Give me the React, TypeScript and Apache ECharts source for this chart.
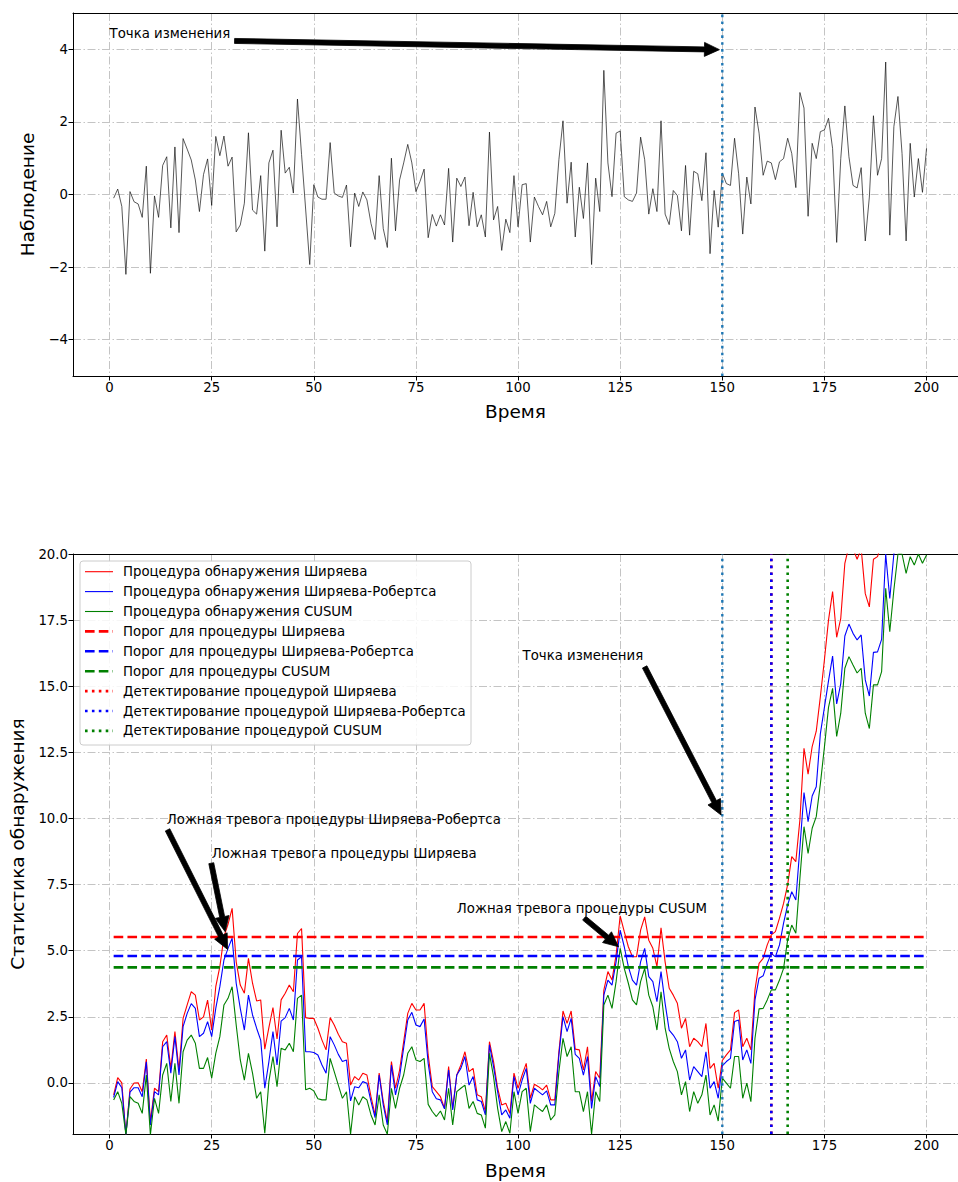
import React, { useEffect, useRef } from "react";
import * as echarts from "echarts";

// ---------------- data ----------------
const TIME_STEPS: number[] = Array.from({ length: 200 }, (_, i) => i + 1);

const OBSERVATIONS: number[] = [
  -0.1, 0.15, -0.33, -2.2, 0.08, -0.2, -0.26, -0.63, 0.78, -2.17,
  -0.04, -0.63, 0.8, 1.04, -0.92, 1.31, -1.05, 1.54, 1.25, 0.95,
  0.4, -0.47, 0.55, 0.98, -0.3, 1.6, 1.07, 1.61, 0.78, 1.03,
  -1.03, -0.84, -0.24, 1.7, -0.43, -0.54, 0.52, -1.56, 0.87, 1.22,
  -0.89, 1.77, 0.59, 0.75, 0.04, 2.63, 1.1, -0.4, -1.93, 0.27,
  -0.07, -0.13, -0.13, 1.43, 0.04, -0.04, -0.08, 0.26, -1.44, 0.04,
  -0.33, 0.07, -0.15, -0.8, -1.24, 0.52, -0.94, -1.46, 1.0, -1.0,
  0.4, 0.87, 1.38, 0.87, 0.08, 0.36, 0.7, -1.19, -0.55, -0.87,
  -0.56, -0.84, 0.72, -1.31, 0.45, 0.22, 0.48, -0.86, 0.06, -0.89,
  -0.56, -1.17, 1.72, -0.7, -0.33, -1.54, -0.68, -1.05, 0.52, -0.89,
  0.27, 0.3, -1.31, -0.07, -0.33, -0.56, -0.19, -0.89, -0.52, 0.96,
  2.03, -0.24, 0.89, -1.17, 0.2, -0.66, 0.87, -1.93, 0.45, -0.47,
  3.42, 0.87, -0.06, 1.69, 1.75, -0.06, -0.15, -0.19, 0.04, 1.58,
  0.96, -0.54, 0.16, -0.47, 2.03, -0.54, -0.83, 0.11, -0.03, -1.0,
  0.8, -1.12, 0.64, 0.57, -0.17, 1.15, -1.63, 0.11, -0.9, 0.59,
  0.3, 0.25, 1.55, 0.57, -1.09, 0.48, -0.26, 2.41, 1.69, 0.53,
  0.92, 0.87, 0.41, 0.9, 0.99, 1.55, 1.13, 0.19, 2.81, 2.38,
  -0.6, 1.41, 0.99, 1.73, 1.78, 2.1, 1.27, -1.32, 0.99, 2.44,
  1.04, 0.25, 0.18, 0.74, -1.28, -0.07, 2.17, 0.53, 0.99, 3.65,
  -1.12, 1.87, 2.7, 1.13, -1.28, 1.41, -0.07, 0.99, 0.06, 1.27,
];

const SHIRYAEV: number[] = [
  -0.45, 0.2, 0, -1.96, -0.23, 0, 0.01, -0.33, 0.9, -1.46,
  -0.2, -0.33, 1.56, 1.81, 0.55, 1.94, 0.49, 2.44, 2.95, 3.45,
  3.32, 2.38, 2.5, 3.13, 2.0, 3.64, 4.4, 5.53, 6.0, 6.6,
  4.58, 3.7, 3.39, 4.71, 3.77, 3.1, 3.14, 1.28, 2.09, 2.85,
  1.66, 3.14, 3.39, 3.7, 3.45, 5.65, 5.84, 2.47, 2.44, 2.44,
  2.07, 1.62, 1.25, 2.47, 2.19, 1.84, 1.56, 1.5, -0.08, 0.24,
  0.11, 0.37, 0.3, -0.52, -1.21, 0.37, -0.7, -1.46, 0.81, -0.2,
  0.49, 1.56, 2.63, 3.01, 2.76, 2.76, 3.01, 1.06, -0.14, -0.33,
  -0.52, -0.96, 0.62, -0.96, 0.3, 0.68, 1.18, 0.43, 0.55, -0.45,
  -0.52, -1.08, 1.56, 0.81, -0.2, -0.83, -0.77, -1.15, 0.37, -0.2,
  0.3, 0.74, -0.58, -0.05, -0.14, -0.26, -0.08, -0.64, -0.64, 1.18,
  2.72, 2.25, 2.72, 1.28, 1.25, 0.49, 1.37, -0.7, 0.43, 0.18,
  3.51, 4.21, 3.89, 4.84, 6.32, 5.72, 5.15, 4.77, 4.77, 5.78,
  6.28, 5.4, 5.09, 4.4, 5.87, 4.58, 3.58, 3.32, 3.01, 2.07,
  2.44, 1.37, 1.69, 1.56, 1.37, 2.25, 0.55, 0.74, -0.2, 0.85,
  1.06, 1.25, 2.66, 2.76, 1.37, 1.69, 1.25, 3.52, 4.52, 4.71,
  5.22, 5.6, 5.72, 6.23, 6.79, 7.5, 8.56, 8.37, 9.95, 12.65,
  11.68, 12.72, 13.3, 14.6, 16.0, 17.5, 18.58, 16.85, 17.57, 19.65,
  20.3, 20.2, 19.8, 20.2, 18.5, 18.0, 19.8, 19.9, 20.4, 22.5,
  21.0, 22.0, 23.0, 22.5, 21.0, 22.0, 21.5, 22.2, 21.8, 22.5,
];

const SHIRYAEV_ROBERTS: number[] = [
  -0.55, 0.05, -0.18, -1.96, -0.35, -0.18, -0.18, -0.52, 0.8, -1.59,
  -0.33, -0.45, 1.37, 1.56, 0.37, 1.75, 0.3, 2.13, 2.63, 3.0,
  2.82, 1.75, 1.88, 2.32, 1.75, 2.82, 3.64, 4.65, 5.09, 5.47,
  3.77, 2.82, 2.0, 3.32, 2.57, 2.07, 1.62, -0.2, 0.8, 1.94,
  0.68, 2.34, 2.47, 2.82, 2.38, 4.65, 4.77, 1.18, 1.18, 1.15,
  1.06, 0.68, 0.37, 1.75, 1.44, 1.08, 0.81, 0.87, -0.68, -0.14,
  -0.18, 0.05, -0.01, -0.7, -1.31, 0.3, -0.83, -1.59, 0.68, -0.45,
  0.24, 1.33, 2.38, 2.67, 2.19, 2.13, 2.42, 0.74, -0.33, -0.6,
  -0.64, -0.98, 0.49, -1.02, 0.3, 0.55, 1.0, -0.08, 0.24, -0.64,
  -0.7, -1.21, 1.44, 0.62, -0.33, -1.21, -1.02, -1.33, 0.24, -0.45,
  0.11, 0.55, -0.77, -0.2, -0.33, -0.45, -0.3, -0.83, -0.83, 1.06,
  2.51, 1.94, 2.44, 1.08, 0.93, 0.3, 1.0, -0.96, 0.24, -0.14,
  3.32, 3.89, 3.7, 4.58, 5.78, 5.15, 4.4, 3.89, 3.7, 4.58,
  5.09, 4.02, 3.83, 3.07, 4.21, 3.01, 2.0, 1.81, 1.56, 0.93,
  1.25, 0.11, 0.62, 0.43, 0.24, 1.18, -0.2, 0.05, -0.58, 0.65,
  0.81, 0.93, 2.32, 2.38, 0.87, 1.25, 0.74, 3.14, 3.96, 4.05,
  4.52, 4.9, 4.77, 5.22, 6.04, 6.73, 7.23, 6.92, 8.9, 10.98,
  9.88, 10.85, 11.2, 13.2, 14.2, 15.2, 16.14, 14.33, 15.1, 16.9,
  17.35, 17.0, 16.75, 16.94, 15.24, 14.63, 16.28, 16.3, 16.77, 20.0,
  18.32, 20.0, 20.8, 21.2, 20.5, 21.0, 20.6, 21.3, 21.0, 21.5,
];

const CUSUM: number[] = [
  -0.64, -0.33, -0.77, -1.96, -0.52, -0.7, -0.77, -1.15, 0.3, -1.96,
  -0.58, -1.15, 0.3, 0.74, -0.7, 0.74, -0.77, 1.18, 1.62, 1.81,
  1.5, 0.55, 0.55, 0.96, 0.18, 1.12, 1.75, 2.95, 3.2, 3.64,
  2.19, 0.87, 0.11, 1.12, 0.37, -0.58, -0.33, -1.9, 0.05, 1.0,
  -0.14, 1.31, 1.25, 1.5, 1.18, 3.2, 3.32, -0.26, -0.2, -0.3,
  -0.6, -0.64, -0.64, 0.93, 0.43, -0.08, -0.58, -0.33, -1.94, -0.52,
  -0.83, -0.52, -0.64, -1.21, -1.59, -0.45, -1.59, -1.94, -0.2, -0.96,
  -0.2, 0.3, 1.12, 1.37, 0.87, 0.81, 0.93, -0.81, -1.08, -1.27,
  -1.06, -1.4, -0.2, -1.59, -0.33, -0.2, -0.08, -0.96, -0.7, -1.15,
  -1.21, -1.71, 1.12, 0.24, -0.96, -1.84, -1.46, -1.9, -0.33, -1.15,
  -0.33, -0.2, -1.84, -0.83, -0.96, -1.08, -0.83, -1.4, -1.21, 0.43,
  1.69, 1.0, 1.37, -0.33, -0.33, -1.08, -0.33, -1.94, -0.33, -0.7,
  2.95, 3.32, 2.82, 3.83, 5.09, 4.33, 3.77, 3.14, 2.95, 3.83,
  4.33, 3.32, 2.88, 2.0, 3.45, 2.07, 1.31, 0.81, 0.43, -0.45,
  0.05, -1.08, -0.33, -0.77, -0.45, 0.3, -1.21, -0.83, -1.44, 0.18,
  -0.01, -0.2, 1.0, 1.0, -0.58, -0.01, -0.71, 1.69, 2.8, 2.82,
  3.14, 3.52, 3.52, 3.89, 4.33, 5.41, 5.97, 5.66, 7.74, 9.69,
  8.68, 9.63, 10.07, 11.3, 12.7, 14.2, 14.92, 13.1, 13.98, 15.68,
  16.12, 15.8, 15.5, 15.68, 13.98, 13.4, 15.05, 15.05, 15.55, 18.7,
  17.06, 18.64, 20.0, 20.0, 19.27, 19.9, 19.58, 20.0, 19.65, 19.96,
];

const THRESHOLD_SHIRYAEV = 5.52;
const THRESHOLD_SR = 4.8;
const THRESHOLD_CUSUM = 4.37;

const CHANGE_POINT = 150;
const DETECTION_SHIRYAEV = 162;
const DETECTION_SR = 162;
const DETECTION_CUSUM = 166;

const X_TICKS: number[] = [0, 25, 50, 75, 100, 125, 150, 175, 200];
const Y_TICKS_TOP: number[] = [-4, -2, 0, 2, 4];
const Y_TICKS_BOTTOM: number[] = [0, 2.5, 5, 7.5, 10, 12.5, 15, 17.5, 20];

const LEGEND_LABELS: string[] = [
  "Процедура обнаружения Ширяева",
  "Процедура обнаружения Ширяева-Робертса",
  "Процедура обнаружения CUSUM",
  "Порог для процедуры Ширяева",
  "Порог для процедуры Ширяева-Робертса",
  "Порог для процедуры CUSUM",
  "Детектирование процедурой Ширяева",
  "Детектирование процедурой Ширяева-Робертса",
  "Детектирование процедурой CUSUM",
];

// annotations: text anchor (left, middle), arrow tail, arrow tip — in data coordinates
const ANNOTATIONS_TOP = [
  { text: "Точка изменения", at: [0, 4.43], tail: [30.6, 4.23], tip: [149.3, 3.99] },
];
const ANNOTATIONS_BOTTOM = [
  { text: "Точка изменения", at: [101.1, 16.18], tail: [131.0, 15.73], tip: [149.7, 10.13] },
  { text: "Ложная тревога процедуры Ширяева-Робертса", at: [14.0, 9.98], tail: [14.2, 9.57], tip: [28.9, 5.05] },
  { text: "Ложная тревога процедуры Ширяева", at: [25.0, 8.68], tail: [24.9, 8.31], tip: [28.3, 5.72] },
  { text: "Ложная тревога процедуры CUSUM", at: [85.0, 6.6], tail: [116.2, 6.23], tip: [124.6, 5.15] },
];

// ---------------- styles ----------------
const FONT = "DejaVu Sans";
const SMALL = 13.3;
const LARGE = 18.5;
const RED = "#ff0000";
const BLUE = "#0000ff";
const GREEN = "#008000";
const TAB_BLUE = "#1f77b4";
const X_MIN = -8.95;
const X_MAX = 207.7;
const Y_MIN_BOTTOM = -1.93;
const Y_MAX_BOTTOM = 20;
const DASH = [9.6, 4.2];
const DOT = [2.6, 4.3];

const gridLineStyle = { color: "#c4c4c4", width: 1, type: [8, 2.5, 1.5, 2.5] as any };

function pairs(values: number[]) {
  return TIME_STEPS.map((t, i) => [t, values[i]]);
}

function arrowPoints(p0: number[], p1: number[], shaft = 5, headW = 14, headL = 15) {
  const dx = p1[0] - p0[0];
  const dy = p1[1] - p0[1];
  const L = Math.hypot(dx, dy);
  const ux = dx / L;
  const uy = dy / L;
  const nx = -uy;
  const ny = ux;
  const hx = p1[0] - ux * headL;
  const hy = p1[1] - uy * headL;
  const w = shaft / 2;
  const hw = headW / 2;
  return [
    [p0[0] + nx * w, p0[1] + ny * w],
    [hx + nx * w, hy + ny * w],
    [hx + nx * hw, hy + ny * hw],
    [p1[0], p1[1]],
    [hx - nx * hw, hy - ny * hw],
    [hx - nx * w, hy - ny * w],
    [p0[0] - nx * w, p0[1] - ny * w],
  ];
}

function xAxisBottom(gridIndex: number, nameGap: number) {
  return {
    type: "value",
    gridIndex,
    position: "bottom",
    min: X_MIN,
    max: X_MAX,
    name: "Время",
    nameLocation: "middle",
    nameGap,
    nameTextStyle: { fontFamily: FONT, fontSize: LARGE, color: "#000" },
    axisLine: { show: true, onZero: false, lineStyle: { color: "#000", width: 1 } },
    axisTick: { show: true, length: 4.5, customValues: X_TICKS, lineStyle: { color: "#000", width: 1 } },
    axisLabel: {
      show: true,
      customValues: X_TICKS,
      margin: 5,
      color: "#000",
      fontFamily: FONT,
      fontSize: SMALL,
      formatter: (v: number) => String(Math.round(v)),
    },
    splitLine: { show: true, lineStyle: gridLineStyle },
  };
}

function xAxisTop(gridIndex: number) {
  return {
    type: "value",
    gridIndex,
    position: "top",
    min: X_MIN,
    max: X_MAX,
    axisLine: { show: true, onZero: false, lineStyle: { color: "#000", width: 1 } },
    axisTick: { show: false },
    axisLabel: { show: false },
    splitLine: { show: false },
  };
}

function lineSeries(name: string, data: any[], color: string, width: number, type: any, xi: number, yi: number, z = 2) {
  return {
    name,
    type: "line",
    xAxisIndex: xi,
    yAxisIndex: yi,
    data,
    symbol: "none",
    showSymbol: false,
    silent: true,
    clip: true,
    z,
    lineStyle: { color, width, type },
    emphasis: { disabled: true },
  };
}

function App() {
  const ref = useRef<HTMLDivElement>(null);

  useEffect(() => {
    if (!ref.current) return;
    const chart = echarts.init(ref.current, null, { renderer: "svg" });

    const option: any = {
      animation: false,
      backgroundColor: "#ffffff",
      textStyle: { fontFamily: FONT },
      grid: [
        { left: 73, top: 13, width: 885, height: 363 },
        { left: 73, top: 554, width: 885, height: 580 },
      ],
      xAxis: [xAxisBottom(0, 26), xAxisBottom(1, 27), xAxisTop(0), xAxisTop(1)],
      yAxis: [
        {
          type: "value",
          gridIndex: 0,
          min: -5,
          max: 5,
          name: "Наблюдение",
          nameLocation: "middle",
          nameGap: 33,
          nameTextStyle: { fontFamily: FONT, fontSize: LARGE, color: "#000" },
          axisLine: { show: true, onZero: false, lineStyle: { color: "#000", width: 1 } },
          axisTick: { show: true, length: 4.5, customValues: Y_TICKS_TOP, lineStyle: { color: "#000", width: 1 } },
          axisLabel: {
            show: true,
            customValues: Y_TICKS_TOP,
            margin: 5,
            color: "#000",
            fontFamily: FONT,
            fontSize: SMALL,
            formatter: (v: number) => (v < 0 ? "\u2212" + Math.abs(v) : String(v)),
          },
          splitLine: { show: true, lineStyle: gridLineStyle },
        },
        {
          type: "value",
          gridIndex: 1,
          min: Y_MIN_BOTTOM,
          max: Y_MAX_BOTTOM,
          name: "Статистика обнаружения",
          nameLocation: "middle",
          nameGap: 46,
          nameTextStyle: { fontFamily: FONT, fontSize: LARGE, color: "#000" },
          axisLine: { show: true, onZero: false, lineStyle: { color: "#000", width: 1 } },
          axisTick: { show: true, length: 4.5, customValues: Y_TICKS_BOTTOM, lineStyle: { color: "#000", width: 1 } },
          axisLabel: {
            show: true,
            customValues: Y_TICKS_BOTTOM,
            margin: 5,
            color: "#000",
            fontFamily: FONT,
            fontSize: SMALL,
            formatter: (v: number) => (v < 0 ? "\u2212" + Math.abs(v).toFixed(1) : v.toFixed(1)),
          },
          splitLine: { show: true, lineStyle: gridLineStyle },
        },
      ],
      series: [
        lineSeries("Наблюдение", pairs(OBSERVATIONS), "#111111", 0.7, "solid", 0, 0),
        lineSeries("change-top", [[CHANGE_POINT, -5], [CHANGE_POINT, 5]], TAB_BLUE, 2.4, DOT, 0, 0, 5),

        lineSeries(LEGEND_LABELS[0], pairs(SHIRYAEV), RED, 1.1, "solid", 1, 1),
        lineSeries(LEGEND_LABELS[1], pairs(SHIRYAEV_ROBERTS), BLUE, 1.1, "solid", 1, 1),
        lineSeries(LEGEND_LABELS[2], pairs(CUSUM), GREEN, 1.1, "solid", 1, 1),
        lineSeries(LEGEND_LABELS[3], [[TIME_STEPS[0], THRESHOLD_SHIRYAEV], [TIME_STEPS[199], THRESHOLD_SHIRYAEV]], RED, 2.6, DASH, 1, 1, 3),
        lineSeries(LEGEND_LABELS[4], [[TIME_STEPS[0], THRESHOLD_SR], [TIME_STEPS[199], THRESHOLD_SR]], BLUE, 2.6, DASH, 1, 1, 3),
        lineSeries(LEGEND_LABELS[5], [[TIME_STEPS[0], THRESHOLD_CUSUM], [TIME_STEPS[199], THRESHOLD_CUSUM]], GREEN, 2.6, DASH, 1, 1, 3),
        lineSeries(LEGEND_LABELS[6], [[DETECTION_SHIRYAEV, Y_MIN_BOTTOM], [DETECTION_SHIRYAEV, Y_MAX_BOTTOM]], RED, 2.6, DOT, 1, 1, 4),
        lineSeries(LEGEND_LABELS[7], [[DETECTION_SR, Y_MIN_BOTTOM], [DETECTION_SR, Y_MAX_BOTTOM]], BLUE, 2.6, DOT, 1, 1, 4),
        lineSeries(LEGEND_LABELS[8], [[DETECTION_CUSUM, Y_MIN_BOTTOM], [DETECTION_CUSUM, Y_MAX_BOTTOM]], GREEN, 2.6, DOT, 1, 1, 4),
        lineSeries("change-bottom", [[CHANGE_POINT, Y_MIN_BOTTOM], [CHANGE_POINT, Y_MAX_BOTTOM]], TAB_BLUE, 2.4, DOT, 1, 1, 5),
      ],
    };

    chart.setOption(option);

    // annotations and legend as graphic elements
    const graphics: any[] = [];
    const addAnnotations = (list: any[], gridIndex: number) => {
      list.forEach((a) => {
        const pText = chart.convertToPixel({ gridIndex } as any, a.at) as number[];
        const pTail = chart.convertToPixel({ gridIndex } as any, a.tail) as number[];
        const pTip = chart.convertToPixel({ gridIndex } as any, a.tip) as number[];
        graphics.push({
          type: "text",
          x: pText[0],
          y: pText[1],
          z: 60,
          silent: true,
          style: {
            text: a.text,
            fill: "#000",
            font: `${SMALL}px "${FONT}"`,
            textAlign: "left",
            textVerticalAlign: "middle",
          },
        });
        graphics.push({
          type: "polygon",
          z: 60,
          silent: true,
          shape: { points: arrowPoints(pTail, pTip) },
          style: { fill: "#000", stroke: "#000", lineWidth: 0.8 },
        });
      });
    };
    addAnnotations(ANNOTATIONS_TOP, 0);
    addAnnotations(ANNOTATIONS_BOTTOM, 1);

    // legend
    const legendStyles = [
      { color: RED, width: 1.1, dash: null },
      { color: BLUE, width: 1.1, dash: null },
      { color: GREEN, width: 1.1, dash: null },
      { color: RED, width: 2.6, dash: DASH },
      { color: BLUE, width: 2.6, dash: DASH },
      { color: GREEN, width: 2.6, dash: DASH },
      { color: RED, width: 2.6, dash: DOT },
      { color: BLUE, width: 2.6, dash: DOT },
      { color: GREEN, width: 2.6, dash: DOT },
    ];
    const lgX = 80;
    const lgY = 561;
    const rowH = 19.9;
    const legendChildren: any[] = [
      {
        type: "rect",
        shape: { x: 0, y: 0, width: 391, height: 184, r: 3 },
        style: { fill: "rgba(255,255,255,0.85)", stroke: "#cccccc", lineWidth: 1 },
      },
    ];
    LEGEND_LABELS.forEach((label, i) => {
      const cy = 10.7 + rowH * i;
      const st = legendStyles[i];
      legendChildren.push({
        type: "line",
        shape: { x1: 5, y1: cy, x2: 33, y2: cy },
        style: { stroke: st.color, lineWidth: st.width, lineDash: st.dash || undefined },
      });
      legendChildren.push({
        type: "text",
        x: 43,
        y: cy,
        style: {
          text: label,
          fill: "#000",
          font: `${SMALL}px "${FONT}"`,
          textAlign: "left",
          textVerticalAlign: "middle",
        },
      });
    });
    graphics.push({ type: "group", x: lgX, y: lgY, z: 80, silent: true, children: legendChildren });

    chart.setOption({ graphic: graphics });

    return () => chart.dispose();
  }, []);

  return (
    <div
      ref={ref}
      style={{ position: "absolute", left: 0, top: 0, width: 958, height: 1182, background: "#fff" }}
    />
  );
}

export default App;
